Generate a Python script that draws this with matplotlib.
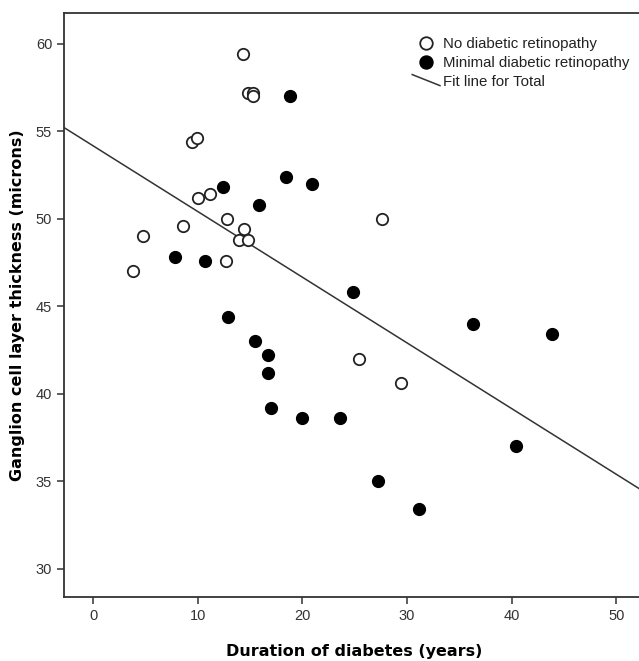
import numpy as np
import matplotlib.pyplot as plt
from matplotlib.lines import Line2D
from matplotlib.legend_handler import HandlerLine2D

# Duration of diabetes (years) / ganglion cell layer thickness (microns)
no_dr_x = [14.3, 14.8, 15.3, 15.3, 9.4, 9.9, 10.0, 11.2, 12.8, 8.6, 4.8,
           14.4, 13.9, 14.8, 12.7, 3.8, 27.6, 25.4, 29.4]
no_dr_y = [59.4, 57.2, 57.2, 57.0, 54.4, 54.6, 51.2, 51.4, 50.0, 49.6, 49.0,
           49.4, 48.8, 48.8, 47.6, 47.0, 50.0, 42.0, 40.6]

min_dr_x = [18.8, 12.4, 18.4, 20.9, 15.8, 7.8, 10.7, 12.9, 24.8, 36.3, 43.9,
            15.5, 16.7, 16.7, 17.0, 20.0, 23.6, 40.4, 27.2, 31.1]
min_dr_y = [57.0, 51.8, 52.4, 52.0, 50.8, 47.8, 47.6, 44.4, 45.8, 44.0, 43.4,
            43.0, 42.2, 41.2, 39.2, 38.6, 38.6, 37.0, 35.0, 33.4]

x_ticks = [0, 10, 20, 30, 40, 50]
y_ticks = [30, 35, 40, 45, 50, 55, 60]


class DiagonalLineHandler(HandlerLine2D):
    # legend sample for the fit line is drawn as a short slanted stroke
    def create_artists(self, legend, orig_handle, xdescent, ydescent,
                       width, height, fontsize, trans):
        line = Line2D([0, width], [height * 1.05, height * 0.0],
                      color=orig_handle.get_color(), lw=orig_handle.get_linewidth())
        line.set_transform(trans)
        return [line]


fig = plt.figure(figsize=(6.39, 6.61), dpi=100)
ax = fig.add_axes([64 / 639, 64 / 661, 580 / 639, 584 / 661])

line_col = '#333333'

# fit line for total sample
all_x = np.array(no_dr_x + min_dr_x)
all_y = np.array(no_dr_y + min_dr_y)
slope, intercept = np.polyfit(all_x, all_y, 1)
xl = np.array([-2.8, 53.0])
fit_line, = ax.plot(xl, intercept + slope * xl, color=line_col, lw=1.1, zorder=1)

ax.plot(no_dr_x, no_dr_y, 'o', ms=8.2, mfc='white', mec='#222222', mew=1.3, ls='none',
        zorder=2, label='No diabetic retinopathy')
ax.plot(min_dr_x, min_dr_y, 'o', ms=8.5, mfc='black', mec='black', mew=1.0, ls='none',
        zorder=3, label='Minimal diabetic retinopathy')

ax.set_xlim(-2.8, 52.65)
ax.set_ylim(28.4, 61.77)
ax.set_xticks(x_ticks)
ax.set_yticks(y_ticks)

for s in ['left', 'bottom', 'top']:
    ax.spines[s].set_color(line_col)
    ax.spines[s].set_linewidth(1.3)
ax.spines['right'].set_visible(False)
ax.tick_params(direction='out', length=5, width=1.1, color=line_col,
               labelcolor='#333333', labelsize=10.5)
for lab in ax.get_xticklabels() + ax.get_yticklabels():
    lab.set_family('Liberation Sans')

ax.set_xlabel('Duration of diabetes (years)', fontsize=11.5, fontweight='bold',
              family='DejaVu Sans', labelpad=15)
ax.set_ylabel('Ganglion cell layer thickness (microns)', fontsize=11.5, fontweight='bold',
              family='DejaVu Sans', labelpad=8)

fit_line.set_label('Fit line for Total')
handles, labels = ax.get_legend_handles_labels()
order = [1, 2, 0]
leg = ax.legend([handles[i] for i in order], [labels[i] for i in order],
                loc='upper right', bbox_to_anchor=(0.998, 0.982), frameon=False,
                prop={'family': 'Liberation Sans', 'size': 10.8}, markerscale=1.1,
                handlelength=1.85, handletextpad=0.2, labelspacing=0.32,
                handler_map={fit_line: DiagonalLineHandler()})
for t in leg.get_texts():
    t.set_color('#222222')

fig.savefig('out.png', dpi=100)
